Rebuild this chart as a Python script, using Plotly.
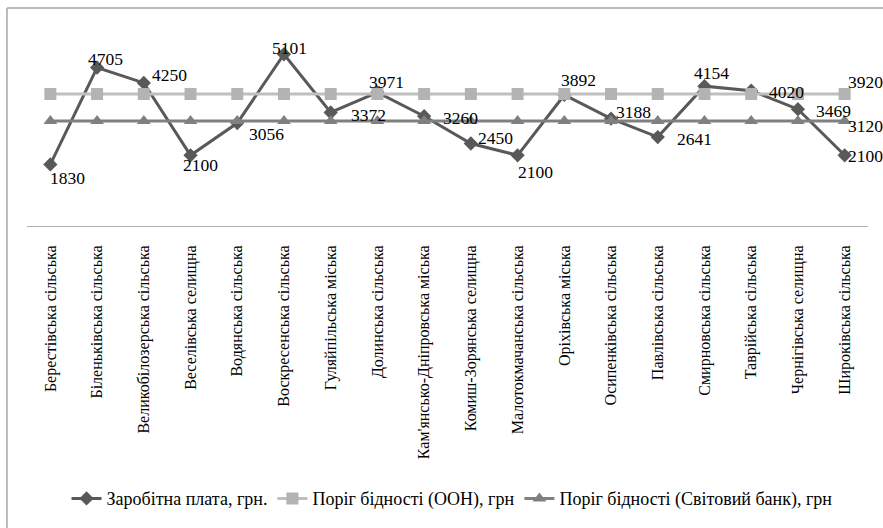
import plotly.graph_objects as go

# Territorial communities (hromadas)
communities = [
    "Берестівська сільська",
    "Біленьківська сільська",
    "Великобілозерська сільська",
    "Веселівська селищна",
    "Водянська сільська",
    "Воскресенська сільська",
    "Гуляйпільська міська",
    "Долинська сільська",
    "Кам'янсько-Дніпровська міська",
    "Комиш-Зорянська селищна",
    "Малотокмачанська сільська",
    "Оріхівська міська",
    "Осипенківська сільська",
    "Павлівська сільська",
    "Смирновська сільська",
    "Таврійська сільська",
    "Чернігівська селищна",
    "Широківська сільська",
]

# Average wage, UAH
wage = [1830, 4705, 4250, 2100, 3056, 5101, 3372, 3971, 3260,
        2450, 2100, 3892, 3188, 2641, 4154, 4020, 3469, 2100]
# Poverty thresholds, UAH
poverty_un = [3920] * len(communities)
poverty_wb = [3120] * len(communities)

names = ["Заробітна плата, грн.",
         "Поріг бідності (ООН), грн",
         "Поріг бідності (Світовий банк), грн"]

# pixel offsets of the value labels relative to each wage point
wage_label_dx = [17, 8, 26, 10, 29, 6, 38, 9, 36, 25, 18, 14, 22, 37, 7, 35, 36, 21]
wage_label_dy = [14, -9, -8, 10, 11, -6, 3, -10, 2, -6, 17, -15, -7, 2, -13, 1, 2, 1]

FONT = "'Liberation Serif', 'Times New Roman', Times, serif"

fig = go.Figure()
fig.add_trace(go.Scatter(
    x=communities, y=wage, name=names[0], mode="lines+markers",
    line=dict(color="#595959", width=3),
    marker=dict(symbol="diamond", size=11, color="#595959"),
))
fig.add_trace(go.Scatter(
    x=communities, y=poverty_un, name=names[1], mode="lines+markers",
    line=dict(color="#bfbfbf", width=3),
    marker=dict(symbol="square", size=12, color="#b3b3b3"),
))
fig.add_trace(go.Scatter(
    x=communities, y=poverty_wb, name=names[2], mode="lines+markers",
    line=dict(color="#808080", width=3),
    marker=dict(symbol="triangle-up", size=12, color="#808080"),
))

label_font = dict(family=FONT, size=17.5, color="#000000")
annotations = []
for c, v, dx, dy in zip(communities, wage, wage_label_dx, wage_label_dy):
    annotations.append(dict(x=c, y=v, text=str(v), showarrow=False,
                            xshift=dx, yshift=-dy, font=label_font))
# end-of-line labels for the thresholds
annotations.append(dict(x=communities[-1], y=poverty_un[-1], text=str(poverty_un[-1]),
                        showarrow=False, xshift=21, yshift=12, font=label_font))
annotations.append(dict(x=communities[-1], y=poverty_wb[-1], text=str(poverty_wb[-1]),
                        showarrow=False, xshift=21, yshift=-5, font=label_font))

# outer chart frame (left and top edges)
frame = dict(color="#a6a6a6", width=1.5)
shapes = [
    dict(type="line", xref="paper", yref="paper", x0=-0.0238, x1=1.02, y0=1.079, y1=1.079, line=frame),
    dict(type="line", xref="paper", yref="paper", x0=-0.0238, x1=-0.0238, y0=1.079, y1=-1.5, line=frame),
]

fig.update_layout(
    width=883, height=528,
    margin=dict(l=27, r=15, t=24, b=302, autoexpand=False),
    paper_bgcolor="white", plot_bgcolor="white",
    font=dict(family=FONT, size=16, color="#000000"),
    showlegend=True,
    legend=dict(orientation="h", x=0.047, xanchor="left", y=-1.35, yanchor="middle",
                font=dict(family=FONT, size=18, color="#000000"),
                itemwidth=30, tracegroupgap=0),
    annotations=annotations,
    shapes=shapes,
)
fig.update_xaxes(
    type="category", range=[-0.5, len(communities) - 0.5],
    showgrid=False, showline=True, linecolor="#b0b0b0", linewidth=1,
    tickangle=-90, ticks="", ticklabelstandoff=12, automargin=False,
    tickfont=dict(family=FONT, size=16, color="#000000"),
)
fig.update_yaxes(range=[0, 6000], showgrid=False, showticklabels=False,
                 zeroline=False, showline=False, automargin=False)

fig.write_html("out.html")
